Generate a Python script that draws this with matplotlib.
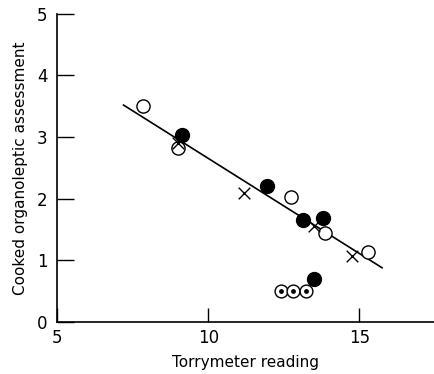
import matplotlib
matplotlib.use("Agg")
import matplotlib.pyplot as plt

# open circles
open_x = [7.85, 9.0, 12.75, 13.85, 15.3]
open_y = [3.5, 2.82, 2.03, 1.45, 1.14]
# filled circles
fill_x = [9.15, 11.95, 13.15, 13.8, 13.5]
fill_y = [3.03, 2.21, 1.66, 1.69, 0.70]
# crosses
cross_x = [9.0, 11.2, 13.5, 14.75]
cross_y = [2.9, 2.09, 1.55, 1.07]
# dotted circles
dot_x = [12.4, 12.82, 13.22]
dot_y = [0.5, 0.5, 0.5]
# regression line
line_x = [7.2, 15.75]
line_y = [3.52, 0.88]

fig = plt.figure(figsize=(4.35, 3.74), dpi=100)
ax = fig.add_axes([0.131, 0.139, 0.869, 0.824])

ax.plot(line_x, line_y, color="black", lw=1.2)
ax.scatter(open_x, open_y, s=90, facecolors="white", edgecolors="black", linewidths=1.0, zorder=3)
ax.scatter(fill_x, fill_y, s=100, color="black", zorder=3)
ax.scatter(cross_x, cross_y, s=70, marker="x", color="black", linewidths=1.0, zorder=3)
ax.scatter(dot_x, dot_y, s=85, facecolors="white", edgecolors="black", linewidths=1.0, zorder=3)
ax.scatter(dot_x, dot_y, s=6, color="black", zorder=4)

ax.set_xlim(5, 17.5)
ax.set_ylim(0, 5)
ax.set_xticks([5, 10, 15])
ax.set_yticks([0, 1, 2, 3, 4, 5])
ax.spines["top"].set_visible(False)
ax.spines["right"].set_visible(False)
ax.spines["left"].set_linewidth(1.2)
ax.spines["bottom"].set_linewidth(1.2)
ax.tick_params(direction="in", length=10, width=1.0, labelsize=12)
ax.tick_params(axis="x", pad=5)
ax.tick_params(axis="y", length=12, pad=7)
ax.set_xlabel("Torrymeter reading", fontsize=11, labelpad=6)
ax.set_ylabel("Cooked organoleptic assessment", fontsize=11, labelpad=6)

fig.savefig("out.png", dpi=100)
